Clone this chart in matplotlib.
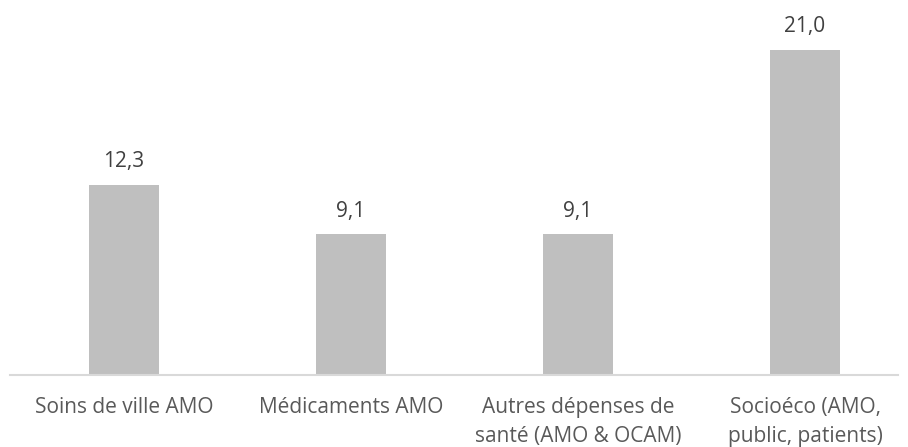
import matplotlib.pyplot as plt

# data
categories = ["Soins de ville AMO", "Médicaments AMO",
              "Autres dépenses de\nsanté (AMO & OCAM)",
              "Socioéco (AMO,\npublic, patients)"]
values = [12.3, 9.1, 9.1, 21.0]

plt.rcParams['font.family'] = ['Open Sans', 'DejaVu Sans']

fig = plt.figure(figsize=(9.08, 4.47), dpi=100)
ax = fig.add_axes([10 / 908, 72 / 447, 888 / 908, 375 / 447])

x = range(len(categories))
bars = ax.bar(x, values, width=70 / 227, color='#BFBFBF', zorder=2)

for b, v in zip(bars, values):
    ax.annotate(f"{v:.1f}".replace('.', ','),
                (b.get_x() + b.get_width() / 2, b.get_height()),
                xytext=(0, 9), textcoords='offset points',
                ha='center', va='bottom', fontsize=15, color='#404040')

ax.set_xlim((10 - 124) / 227, (898 - 124) / 227)
ax.set_ylim(0, 375 / 15.48)
ax.set_xticks(list(x))
ax.set_xticklabels(categories, fontsize=15, color='#595959', linespacing=1.5)
ax.tick_params(axis='x', length=0, pad=16)
ax.set_yticks([])

for s in ['top', 'right', 'left']:
    ax.spines[s].set_visible(False)
ax.spines['bottom'].set_color('#D9D9D9')
ax.spines['bottom'].set_linewidth(1.5)

fig.savefig('out.png', dpi=100)
